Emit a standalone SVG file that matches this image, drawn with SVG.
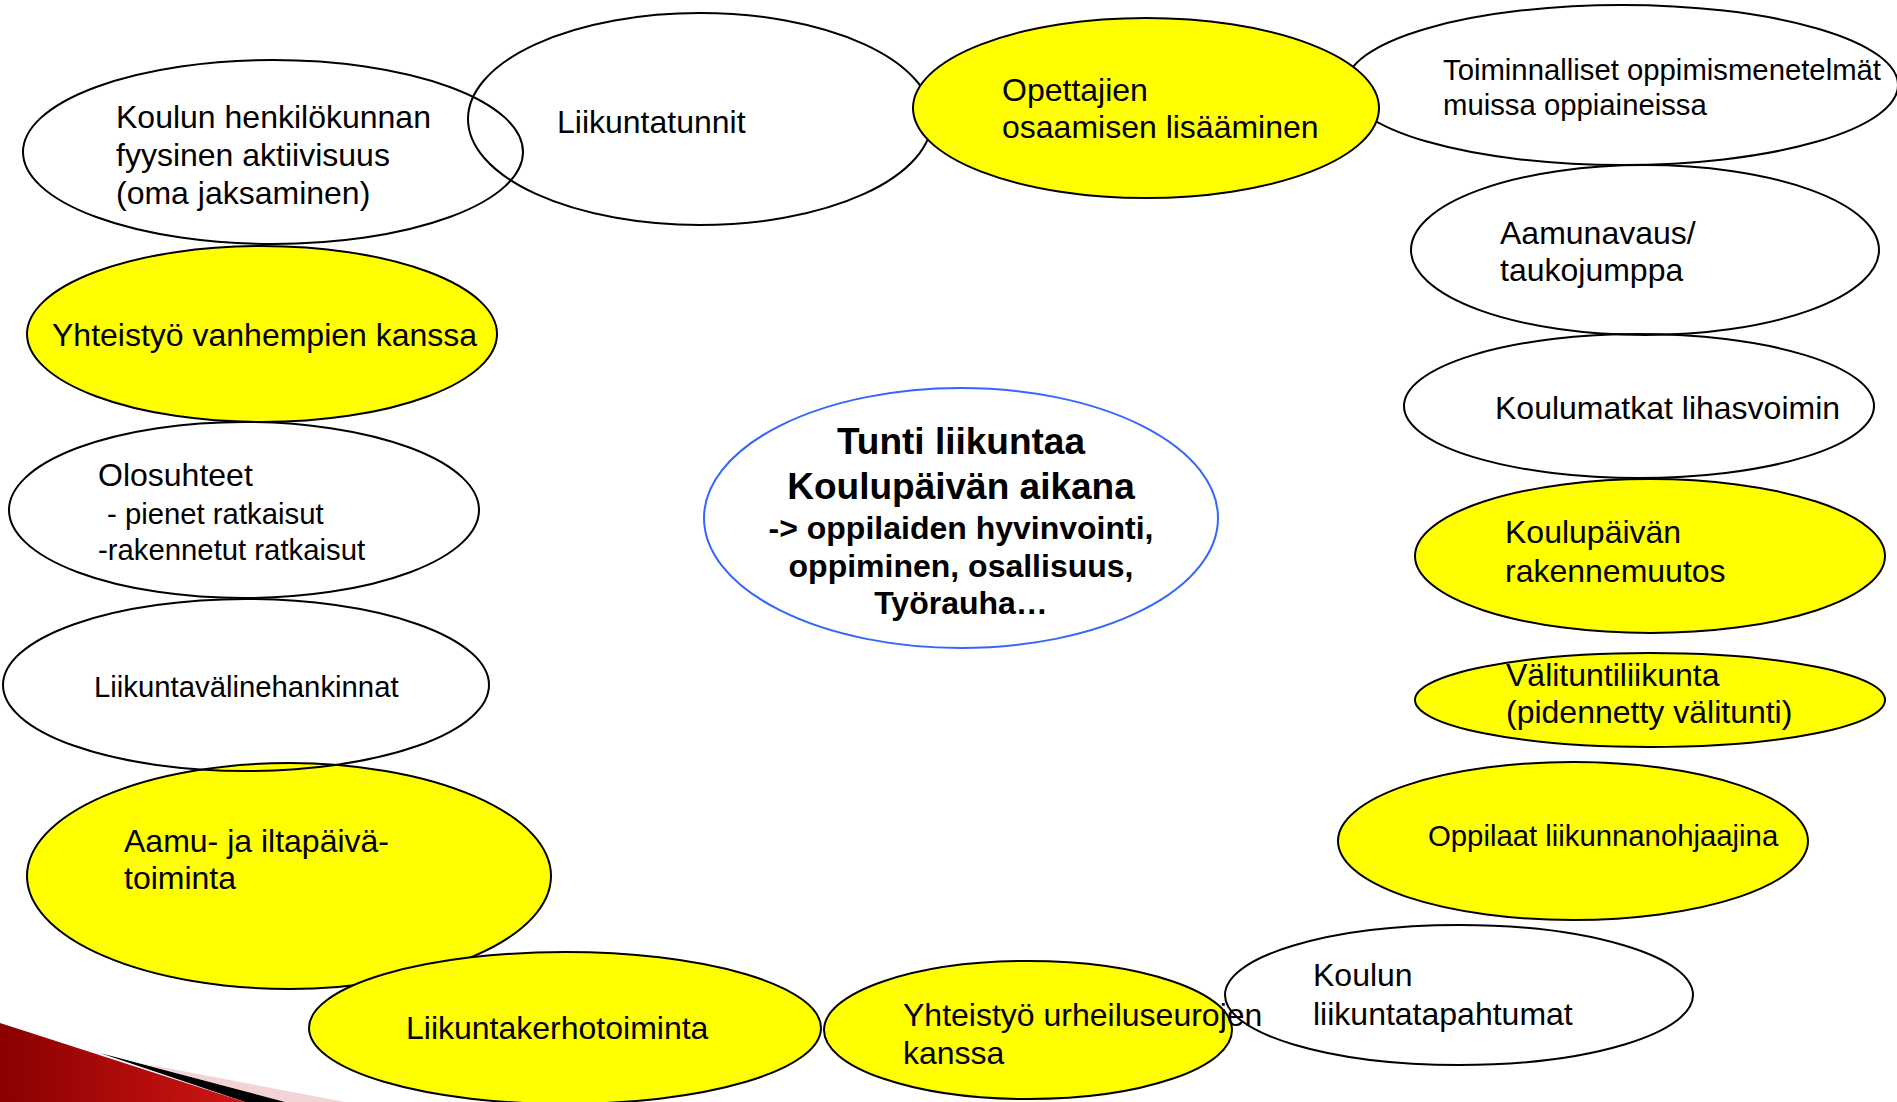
<svg xmlns="http://www.w3.org/2000/svg" width="1897" height="1102" viewBox="0 0 1897 1102">
<style>
.e{stroke:#000;stroke-width:2;fill:none}
.y{stroke:#000;stroke-width:2;fill:#ffff00}
.c{stroke:#3366ff;stroke-width:2;fill:#fff}
text{font-family:"Liberation Sans",Arial,sans-serif;fill:#000}
.t{font-size:32px}
.s{font-size:29.3px}
.b{font-weight:bold;font-size:32px;text-anchor:middle}
.bb{font-weight:bold;font-size:37px;text-anchor:middle}
</style>
<defs>
<linearGradient id="red" x1="0" y1="0" x2="1" y2="0">
<stop offset="0" stop-color="#8a0000"/>
<stop offset="1" stop-color="#d01515"/>
</linearGradient>
</defs>
<rect width="1897" height="1102" fill="#fff"/>
<g id="decoration">
<polygon points="140,1063 345,1102 285,1102" fill="#f2d4d6"/>
<polygon points="100,1053 285,1102 245,1102" fill="#000"/>
<polygon points="0,1023 245,1102 0,1102" fill="url(#red)"/>
</g>
<g id="n-koulun-henkilokunnan"><ellipse class="e" cx="273" cy="152" rx="250" ry="92"/>
<text class="t" x="116" y="128">Koulun henkilökunnan</text><text class="t" x="116" y="166">fyysinen aktiivisuus</text><text class="t" x="116" y="204">(oma jaksaminen)</text></g>
<g id="n-liikuntatunnit"><ellipse class="e" cx="700" cy="119" rx="232" ry="106"/>
<text class="t" x="557" y="133">Liikuntatunnit</text></g>
<g id="n-toiminnalliset"><ellipse class="e" cx="1622" cy="85" rx="276" ry="80"/>
<text class="s" x="1443" y="80">Toiminnalliset oppimismenetelmät</text><text class="s" x="1443" y="115">muissa oppiaineissa</text></g>
<g id="n-opettajien"><ellipse class="y" cx="1146" cy="108" rx="233" ry="90"/>
<text class="t" x="1002" y="101">Opettajien</text><text class="t" x="1002" y="138">osaamisen lisääminen</text></g>
<g id="n-aamunavaus"><ellipse class="e" cx="1645" cy="250" rx="234" ry="85"/>
<text class="t" x="1500" y="244">Aamunavaus/</text><text class="t" x="1500" y="281">taukojumppa</text></g>
<g id="n-koulumatkat"><ellipse class="e" cx="1639" cy="406" rx="235" ry="72"/>
<text class="t" x="1495" y="419">Koulumatkat lihasvoimin</text></g>
<g id="n-koulupaivan"><ellipse class="y" cx="1650" cy="556" rx="235" ry="77"/>
<text class="t" x="1505" y="543">Koulupäivän</text><text class="t" x="1505" y="582">rakennemuutos</text></g>
<g id="n-valitunti"><ellipse class="y" cx="1650" cy="700" rx="235" ry="47"/>
<text class="t" x="1506" y="686">Välituntiliikunta</text><text class="t" x="1506" y="723">(pidennetty välitunti)</text></g>
<g id="n-oppilaat"><ellipse class="y" cx="1573" cy="841" rx="235" ry="79"/>
<text class="s" x="1428" y="846">Oppilaat liikunnanohjaajina</text></g>
<g id="n-aamu-ilta"><ellipse class="y" cx="289" cy="876" rx="262" ry="113"/>
<text class="t" x="124" y="852">Aamu- ja iltapäivä-</text><text class="t" x="124" y="889">toiminta</text></g>
<g id="n-liikuntakerho"><ellipse class="y" cx="565" cy="1028" rx="256" ry="76"/>
<text class="t" x="406" y="1039">Liikuntakerhotoiminta</text></g>
<g id="n-urheiluseurat"><ellipse class="y" cx="1028" cy="1030" rx="204" ry="69"/>
<text class="t" x="903" y="1026">Yhteistyö urheiluseurojen</text><text class="t" x="903" y="1064">kanssa</text></g>
<g id="n-tapahtumat"><ellipse class="e" cx="1459" cy="995" rx="234" ry="70"/>
<text class="t" x="1313" y="986">Koulun</text><text class="t" x="1313" y="1025">liikuntatapahtumat</text></g>
<g id="n-valinehankinnat"><ellipse class="e" cx="246" cy="685" rx="243" ry="86"/>
<text class="s" x="94" y="697">Liikuntavälinehankinnat</text></g>
<g id="n-olosuhteet"><ellipse class="e" cx="244" cy="510" rx="235" ry="88"/>
<text class="t" x="98" y="486">Olosuhteet</text><text class="s" x="107" y="524">- pienet ratkaisut</text><text class="s" x="98" y="560">-rakennetut ratkaisut</text></g>
<g id="n-vanhemmat"><ellipse class="y" cx="262" cy="334" rx="235" ry="88"/>
<text class="t" x="52" y="346">Yhteistyö vanhempien kanssa</text></g>
<g id="n-center"><ellipse class="c" cx="961" cy="518" rx="257" ry="130"/>
<text class="bb" x="961" y="454">Tunti liikuntaa</text>
<text class="bb" x="961" y="499">Koulupäivän aikana</text>
<text class="b" x="961" y="539">-&gt; oppilaiden hyvinvointi,</text>
<text class="b" x="961" y="577">oppiminen, osallisuus,</text>
<text class="b" x="961" y="614">Työrauha…</text></g>
<g id="connectors"/>
</svg>
